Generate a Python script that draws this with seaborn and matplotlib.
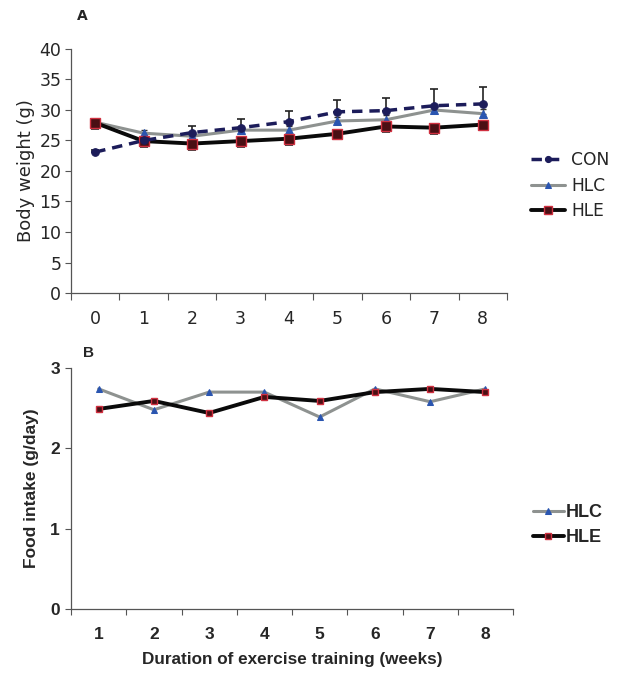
import numpy as np
import pandas as pd
import matplotlib
matplotlib.use("Agg")
import matplotlib.pyplot as plt
import seaborn as sns
from matplotlib.ticker import FixedLocator

sns.set_style("white")
plt.rcParams['font.family'] = ['DejaVu Sans']
B_FAMILY = ['Liberation Sans', 'DejaVu Sans']

# ---------------- data ----------------
weeks_a = [0, 1, 2, 3, 4, 5, 6, 7, 8]
con_bw = [23.1, 25.0, 26.3, 27.1, 28.1, 29.7, 29.9, 30.7, 31.0]
con_err = [0.4, 0.5, 1.1, 1.5, 1.7, 1.9, 2.1, 2.7, 2.7]
hlc_bw = [28.0, 26.2, 25.7, 26.7, 26.7, 28.2, 28.4, 30.0, 29.4]
hlc_err = [0.5, 0.5, 0.6, 0.6, 0.6, 0.7, 0.7, 0.9, 0.8]
hle_bw = [27.9, 24.9, 24.5, 24.9, 25.3, 26.1, 27.3, 27.1, 27.6]
hle_err = [1.0, 1.0, 1.0, 1.0, 1.0, 0.9, 0.9, 1.0, 0.9]

weeks_b = [1, 2, 3, 4, 5, 6, 7, 8]
hlc_food = [2.74, 2.48, 2.70, 2.70, 2.39, 2.74, 2.58, 2.74]
hle_food = [2.49, 2.59, 2.44, 2.64, 2.59, 2.70, 2.74, 2.70]

yticks_a = [0, 5, 10, 15, 20, 25, 30, 35, 40]
yticks_b = [0, 1, 2, 3]

# ---------------- styles ----------------
CON_C = '#1c1c5a'
HLC_C = '#8e9290'
HLC_M = '#2a55b0'
HLE_C = '#0a0a0a'
HLE_MF = '#4a0f14'
HLE_ME = '#d03040'

fig = plt.figure(figsize=(6.21, 6.74), dpi=100)
axA = fig.add_axes([71/621, 1-293/674, 436/621, 244/674])
axB = fig.add_axes([71/621, 1-609/674, 442/621, 241/674])

# ---------------- panel A ----------------
dfA = pd.DataFrame({
    'week': weeks_a * 3,
    'bw': con_bw + hlc_bw + hle_bw,
    'group': ['CON'] * 9 + ['HLC'] * 9 + ['HLE'] * 9,
})

axA.errorbar(weeks_a, con_bw, yerr=[np.zeros(9), con_err], fmt='none',
             ecolor='#222222', elinewidth=1.2, capsize=3, capthick=1.2, zorder=2)
axA.errorbar(weeks_a, hlc_bw, yerr=[np.zeros(9), hlc_err], fmt='none',
             ecolor='#333333', elinewidth=1.0, capsize=2.5, capthick=1.0, zorder=2)
axA.errorbar(weeks_a, hle_bw, yerr=[hle_err, np.zeros(9)], fmt='none',
             ecolor='#222222', elinewidth=1.2, capsize=3, capthick=1.2, zorder=2)

sns.lineplot(data=dfA[dfA.group == 'HLC'], x='week', y='bw', ax=axA,
             color=HLC_C, lw=2.2, marker='^', ms=5.5, mfc=HLC_M, mec=HLC_M,
             label='HLC', zorder=3)
sns.lineplot(data=dfA[dfA.group == 'HLE'], x='week', y='bw', ax=axA,
             color=HLE_C, lw=2.8, marker='s', ms=6.5, mfc=HLE_MF, mec=HLE_ME, mew=1.0,
             label='HLE', zorder=4)
sns.lineplot(data=dfA[dfA.group == 'CON'], x='week', y='bw', ax=axA,
             color=CON_C, lw=2.5, marker='o', ms=5.5, mfc=CON_C, mec=CON_C,
             label='CON', zorder=5)
axA.lines[-1].set_dashes([3, 2])

axA.set_xlim(-0.5, 8.5)
axA.set_ylim(0, 40)
axA.set_yticks(yticks_a)
axA.set_xticks(weeks_a)
axA.set_xticklabels([str(w) for w in weeks_a])
axA.xaxis.set_minor_locator(FixedLocator(np.arange(-0.5, 9.0, 1.0)))
axA.tick_params(axis='x', which='major', length=0, pad=12, labelsize=12.5)
axA.tick_params(axis='x', which='minor', length=5, width=0.8, direction='out', color='#555555', bottom=True)
axA.tick_params(axis='y', which='major', length=4, width=0.8, direction='out', color='#555555', left=True, labelsize=12.5, pad=3)
for s in ['top', 'right']:
    axA.spines[s].set_visible(False)
for s in ['left', 'bottom']:
    axA.spines[s].set_color('#555555')
    axA.spines[s].set_linewidth(0.9)
axA.set_xlabel('')
axA.set_ylabel('Body weight (g)', fontsize=13, labelpad=3)
h, l = axA.get_legend_handles_labels()
order = [l.index('CON'), l.index('HLC'), l.index('HLE')]
axA.legend([h[i] for i in order], [l[i] for i in order], loc='center left',
           bbox_to_anchor=(1.02, 0.44), frameon=False, fontsize=12.3,
           handlelength=2.0, handletextpad=0.35, labelspacing=0.45,
           markerscale=0.8)
fig.text(82/621, 1-16/674, 'A', fontsize=10, fontweight='bold', ha='center', va='center')

# ---------------- panel B ----------------
dfB = pd.DataFrame({
    'week': [str(w) for w in weeks_b] * 2,
    'food': hlc_food + hle_food,
    'group': ['HLC'] * 8 + ['HLE'] * 8,
})
sns.lineplot(data=dfB[dfB.group == 'HLC'], x='week', y='food', ax=axB, sort=False,
             color=HLC_C, lw=2.2, marker='^', ms=4, mfc=HLC_M, mec=HLC_M,
             label='HLC', zorder=3)
sns.lineplot(data=dfB[dfB.group == 'HLE'], x='week', y='food', ax=axB, sort=False,
             color=HLE_C, lw=2.8, marker='s', ms=4, mfc=HLE_MF, mec=HLE_ME, mew=1.0,
             label='HLE', zorder=4)
axB.set_xlim(-0.5, 7.5)
axB.set_ylim(0, 3)
axB.set_yticks(yticks_b)
axB.xaxis.set_minor_locator(FixedLocator(np.arange(-0.5, 8.0, 1.0)))
axB.tick_params(axis='x', which='major', length=0, pad=13)
axB.tick_params(axis='x', which='minor', length=4, width=0.8, direction='out', color='#555555', bottom=True)
axB.tick_params(axis='y', which='major', length=4, width=0.8, direction='out', color='#555555', left=True, pad=4)
for lab in axB.get_xticklabels() + axB.get_yticklabels():
    lab.set_fontweight('bold')
    lab.set_family(B_FAMILY)
    lab.set_fontsize(12.5)
for s in ['top', 'right']:
    axB.spines[s].set_visible(False)
for s in ['left', 'bottom']:
    axB.spines[s].set_color('#555555')
    axB.spines[s].set_linewidth(0.9)
axB.set_xlabel('Duration of exercise training (weeks)', fontsize=12.3, fontweight='bold',
               family=B_FAMILY, labelpad=7)
axB.set_ylabel('Food intake (g/day)', fontsize=12.5, fontweight='bold',
               family=B_FAMILY, labelpad=8)
axB.legend(loc='center left', bbox_to_anchor=(1.045, 0.349), frameon=False,
           borderpad=0, borderaxespad=0,
           handlelength=1.7, handletextpad=0.12, labelspacing=0.45,
           prop={'weight': 'bold', 'size': 13, 'family': B_FAMILY})
fig.text(88/621, 1-353/674, 'B', fontsize=11, fontweight='bold', family=B_FAMILY,
         ha='center', va='center')

fig.savefig('out.png', dpi=100)
